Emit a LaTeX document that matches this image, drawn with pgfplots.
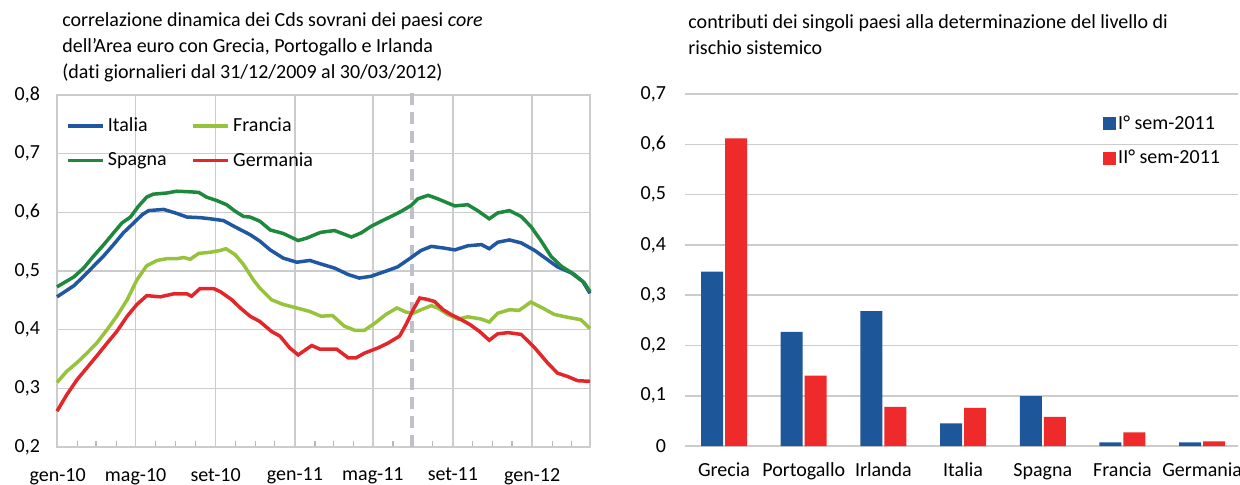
\documentclass[border=0pt]{standalone}
\usepackage{fontspec}
\setmainfont{Carlito}[Ligatures=NoCommon]
\usepackage{pgfplots}
\pgfplotsset{compat=1.18}
\definecolor{cIta}{RGB}{31,87,160}
\definecolor{cFra}{RGB}{150,194,60}
\definecolor{cSpa}{RGB}{30,137,60}
\definecolor{cGer}{RGB}{227,38,42}
\definecolor{cBlue}{RGB}{30,87,153}
\definecolor{cRed}{RGB}{238,42,42}
\definecolor{cGrid}{RGB}{204,204,204}
\definecolor{cDash}{RGB}{192,192,200}
\begin{document}
\fontsize{10pt}{12pt}\selectfont
\begin{tikzpicture}[x=1pt,y=1pt]
\path[use as bounding box] (0,0) rectangle (620,242);
% titles
\node[anchor=base west,inner sep=0pt,font=\fontsize{10pt}{12pt}\selectfont] at (31,229) {correlazione dinamica dei Cds sovrani dei paesi \textit{core}};
\node[anchor=base west,inner sep=0pt,font=\fontsize{10pt}{12pt}\selectfont] at (31,216) {dell'Area euro con Grecia, Portogallo e Irlanda};
\node[anchor=base west,inner sep=0pt,font=\fontsize{10pt}{12pt}\selectfont] at (31,203) {(dati giornalieri dal 31/12/2009 al 30/03/2012)};
\node[anchor=base west,inner sep=0pt,font=\fontsize{10pt}{12pt}\selectfont] at (344,228) {contributi dei singoli paesi alla determinazione del livello di};
\node[anchor=base west,inner sep=0pt,font=\fontsize{10pt}{12pt}\selectfont] at (344,215) {rischio sistemico};

\begin{axis}[at={(28.5pt,18.5pt)}, anchor=south west, scale only axis,
  width=266.5pt, height=176pt, clip=false,
  xmin=0, xmax=820, ymin=0.2, ymax=0.8,
  ytick={0.2,0.3,0.4,0.5,0.6,0.7,0.8},
  xtick={1,121,244,366,486,609,731},
  xticklabels={gen-10,mag-10,set-10,gen-11,mag-11,set-11,gen-12},
  minor xtick={32,60,91,152,182,213,274,305,335,397,425,456,517,547,578,639,670,700,762,791},
  xmajorgrids, ymajorgrids,
  grid style={cGrid, line width=0.8pt},
  axis line style={cGrid, line width=0.8pt},
  tick align=inside, xtick pos=bottom, ytick pos=left,
  major tick length=0pt, minor tick length=3pt,
  minor tick style={draw=cGrid!90!black, line width=0.6pt},
  /pgf/number format/fixed, /pgf/number format/fixed zerofill,
  /pgf/number format/precision=1, /pgf/number format/use comma,
  /pgf/number format/assume math mode=true,
  ticklabel style={font=\fontsize{10pt}{12pt}\selectfont},
  yticklabel style={xshift=-5pt},
  xticklabel style={yshift=-7pt},
  legend columns=2,
  legend style={at={(rel axis cs:0,1)}, anchor=north west, xshift=1.5pt, yshift=-8pt,
    draw=none, fill=none, font=\fontsize{10pt}{12pt}\selectfont,
    row sep=7pt, nodes={inner xsep=1.5pt, inner ysep=1pt},
    /tikz/every even column/.append style={column sep=11pt}},
  legend cell align=left,
  legend image code/.code={\draw[#1, line width=1.75pt] (0pt,0pt) -- (17.5pt,0pt);},
]
\addplot[cDash, line width=2pt, dash pattern=on 6pt off 3.5pt, forget plot] coordinates {(546,0.2) (546,0.815)};
\addplot[cIta, line width=1.75pt] coordinates {
(0,0.456) (26,0.475) (41,0.491) (56,0.508) (72,0.526) (87,0.545) (102,0.565) (118,0.582) (131,0.596) (141,0.603) (164,0.605) (182,0.599) (200,0.592) (220,0.591) (236,0.589) (256,0.586) (276,0.574) (297,0.562) (312,0.551) (328,0.536) (348,0.522) (369,0.515) (389,0.518) (406,0.512) (427,0.505) (448,0.494) (465,0.488) (483,0.491) (504,0.499) (524,0.507) (545,0.523) (560,0.535) (576,0.542) (596,0.539) (612,0.536) (632,0.543) (653,0.545) (665,0.538) (678,0.549) (696,0.553) (714,0.548) (735,0.535) (755,0.519) (770,0.507) (791,0.497) (809,0.482) (820,0.462)};
\addlegendentry{Italia}
\addplot[cFra, line width=1.75pt] coordinates {
(0,0.310) (15,0.329) (31,0.344) (46,0.360) (61,0.377) (77,0.400) (92,0.423) (108,0.451) (123,0.485) (138,0.509) (154,0.518) (169,0.521) (184,0.521) (195,0.523) (205,0.520) (218,0.530) (236,0.532) (251,0.535) (260,0.538) (274,0.528) (287,0.511) (302,0.485) (312,0.471) (330,0.451) (348,0.443) (369,0.437) (389,0.431) (406,0.423) (424,0.424) (442,0.406) (458,0.399) (473,0.399) (489,0.411) (506,0.426) (523,0.437) (537,0.430) (548,0.428) (560,0.434) (576,0.441) (586,0.437) (601,0.426) (617,0.418) (632,0.422) (653,0.418) (665,0.413) (678,0.428) (696,0.434) (711,0.433) (729,0.447) (747,0.437) (765,0.426) (786,0.421) (806,0.417) (820,0.402)};
\addlegendentry{Francia}
\addplot[cSpa, line width=1.75pt] coordinates {
(0,0.473) (26,0.490) (41,0.505) (56,0.525) (72,0.545) (87,0.565) (100,0.582) (113,0.592) (125,0.610) (138,0.626) (148,0.631) (169,0.633) (184,0.636) (205,0.635) (218,0.634) (230,0.626) (246,0.620) (261,0.613) (274,0.602) (287,0.593) (297,0.592) (312,0.585) (328,0.570) (348,0.564) (371,0.552) (384,0.556) (399,0.563) (406,0.566) (427,0.569) (453,0.558) (468,0.565) (483,0.576) (499,0.585) (514,0.593) (530,0.602) (545,0.612) (555,0.623) (571,0.629) (586,0.623) (601,0.616) (612,0.611) (632,0.613) (647,0.603) (665,0.589) (678,0.599) (696,0.603) (714,0.593) (729,0.576) (745,0.551) (760,0.525) (776,0.508) (796,0.494) (811,0.480) (820,0.465)};
\addlegendentry{Spagna}
\addplot[cGer, line width=1.75pt] coordinates {
(0,0.261) (15,0.289) (31,0.315) (46,0.335) (61,0.355) (77,0.377) (92,0.397) (108,0.423) (123,0.443) (138,0.458) (159,0.456) (179,0.461) (200,0.461) (207,0.457) (220,0.470) (241,0.470) (251,0.465) (269,0.451) (282,0.437) (297,0.423) (312,0.414) (330,0.397) (343,0.389) (358,0.369) (371,0.357) (392,0.373) (404,0.367) (430,0.367) (448,0.352) (460,0.352) (473,0.360) (494,0.369) (509,0.377) (527,0.389) (537,0.409) (548,0.434) (558,0.454) (568,0.452) (581,0.448) (594,0.434) (606,0.426) (622,0.417) (635,0.409) (650,0.397) (665,0.382) (678,0.393) (694,0.395) (714,0.392) (735,0.369) (755,0.343) (770,0.326) (786,0.320) (801,0.313) (820,0.312)};
\addlegendentry{Germania}
\end{axis}

\begin{axis}[at={(342.5pt,19pt)}, anchor=south west, scale only axis,
  width=276.5pt, height=176pt, clip=false,
  xmin=-0.49, xmax=6.45, ymin=0, ymax=0.7,
  ybar, bar width=11pt,
  ytick={0,0.1,0.2,0.3,0.4,0.5,0.6,0.7},
  xtick={0,1,2,3,4,5,6},
  xticklabels={Grecia,Portogallo,Irlanda,Italia,Spagna,Francia,Germania},
  ymajorgrids, grid style={cGrid, line width=0.8pt},
  axis line style={draw=none}, major tick length=0pt,
  /pgf/number format/fixed, /pgf/number format/precision=1,
  /pgf/number format/use comma, /pgf/number format/assume math mode=true,
  ticklabel style={font=\fontsize{10pt}{12pt}\selectfont},
  yticklabel style={xshift=-6pt},
  xticklabel style={yshift=-5pt},
  legend style={at={(rel axis cs:0,1)}, anchor=north west, xshift=206pt, yshift=-7.5pt,
    draw=none, fill=none, font=\fontsize{10pt}{12pt}\selectfont,
    row sep=7pt, nodes={inner xsep=1pt, inner ysep=1pt}},
  legend cell align=left,
]
\addplot[fill=cBlue, draw=none, bar shift=-6pt,
  legend image code/.code={\fill[cBlue] (0pt,-3.2pt) rectangle (6.4pt,3.2pt);}]
  coordinates {(0,0.347) (1,0.227) (2,0.268) (3,0.045) (4,0.099) (5,0.007) (6,0.007)};
\addlegendentry{I° sem-2011}
\addplot[fill=cRed, draw=none, bar shift=6pt,
  legend image code/.code={\fill[cRed] (0pt,-3.2pt) rectangle (6.4pt,3.2pt);}]
  coordinates {(0,0.612) (1,0.140) (2,0.078) (3,0.076) (4,0.058) (5,0.027) (6,0.009)};
\addlegendentry{II° sem-2011}
\end{axis}
\end{tikzpicture}
\end{document}
